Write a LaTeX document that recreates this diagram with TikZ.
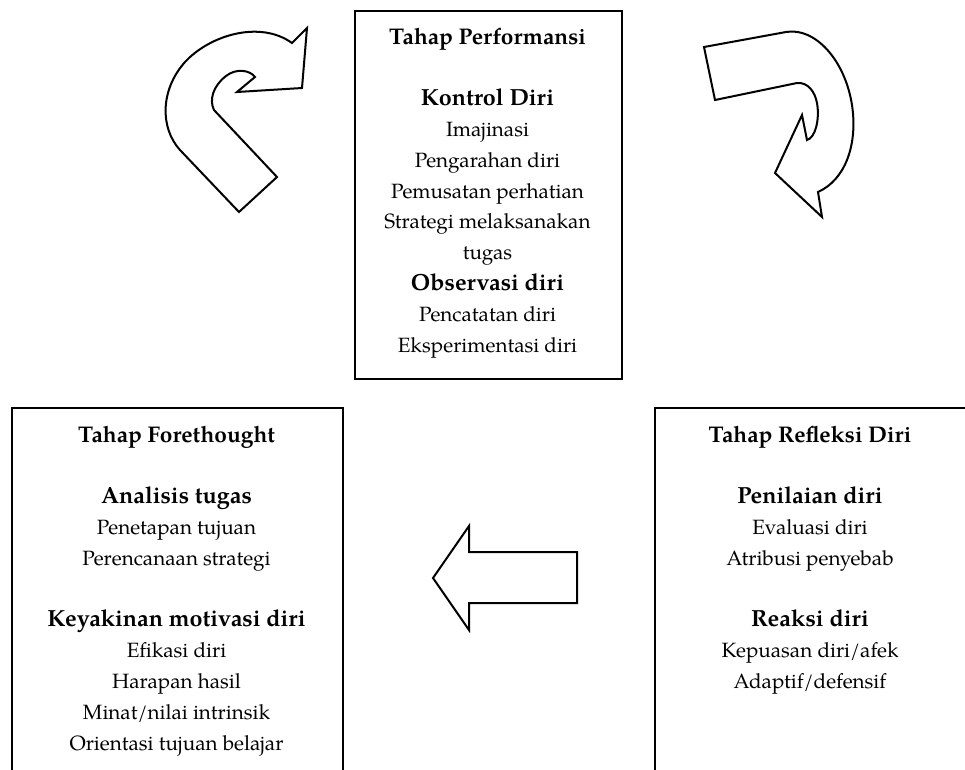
\documentclass[tikz,border=0pt]{standalone}
\usepackage{fontspec}
\setmainfont{TeX Gyre Pagella}
\newcommand\ttl{\fontsize{17pt}{20pt}\selectfont\bfseries}
\newcommand\hd{\fontsize{17.5pt}{20pt}\selectfont\bfseries}
\begin{document}
\begin{tikzpicture}[x=0.75pt,y=-0.75pt,
  frame/.style={draw=black,line width=1.5pt,fill=none,inner sep=0pt,anchor=north west},
  txt/.style={inner sep=0pt,anchor=base,font=\fontsize{15.5pt}{20pt}\selectfont},
  arr/.style={draw=black,line width=1.5pt,fill=white,line join=miter}]
\useasboundingbox (0,0) rectangle (965,769);
\clip (0,0) rectangle (965,769);
% boxes
\node[frame,minimum width=200.25pt,minimum height=276pt] (topbox) at (354,10) {};
\node[frame,minimum width=248.25pt,minimum height=300pt] (leftbox) at (11,407) {};
\node[frame,minimum width=262pt,minimum height=300pt] (rightbox) at (654,407) {};
% top box text
\foreach \i/\t in {0/{\ttl Tahap Performansi},2/{\hd Kontrol Diri},3/{Imajinasi},4/{Pengarahan diri},5/{Pemusatan perhatian},6/{Strategi melaksanakan},7/{tugas},8/{\hd Observasi diri},9/{Pencatatan diri},10/{Eksperimentasi diri}}
  \node[txt] (top\i) at (487.5,44+\i*30.8) {\t};
% left box text
\foreach \i/\t in {0/{\ttl Tahap Forethought},2/{\hd Analisis tugas},3/{Penetapan tujuan},4/{Perencanaan strategi},6/{\hd Keyakinan motivasi diri},7/{Efikasi diri},8/{Harapan hasil},9/{Minat/nilai intrinsik},10/{Orientasi tujuan belajar}}
  \node[txt] (left\i) at (176.5,442+\i*30.8) {\t};
% right box text
\foreach \i/\t in {0/{\ttl Tahap Refleksi Diri},2/{\hd Penilaian diri},3/{Evaluasi diri},4/{Atribusi penyebab},6/{\hd Reaksi diri},7/{Kepuasan diri/afek},8/{Adaptif/defensif}}
  \node[txt] (right\i) at (810,442+\i*30.8) {\t};
% curved arrow top left
\draw[arr] (239,212) -- (180,150) .. controls (160,128) and (160,90) .. (185,62)
  .. controls (210,35) and (260,20) .. (292,43) -- (307,28) -- (302,88) -- (237,92) -- (255,77)
  .. controls (250,70) and (236,68) .. (226,76) .. controls (213,86) and (209,100) .. (214,110)
  -- (277,177) -- cycle;
% curved arrow top right
\draw[arr] (704,47) -- (786,32) .. controls (815,27) and (845,60) .. (852,105)
  .. controls (858,145) and (845,180) .. (818,192) -- (822,217) -- (775,173) -- (802,115) -- (807,140)
  .. controls (815,138) and (820,120) .. (817,103) .. controls (815,92) and (808,82) .. (797,83)
  -- (715,100) -- cycle;
% block arrow bottom
\draw[arr] (433,578) -- (469,526) -- (469,552) -- (577,552) -- (577,603) -- (469,603) -- (469,630) -- cycle;
\end{tikzpicture}
\end{document}
